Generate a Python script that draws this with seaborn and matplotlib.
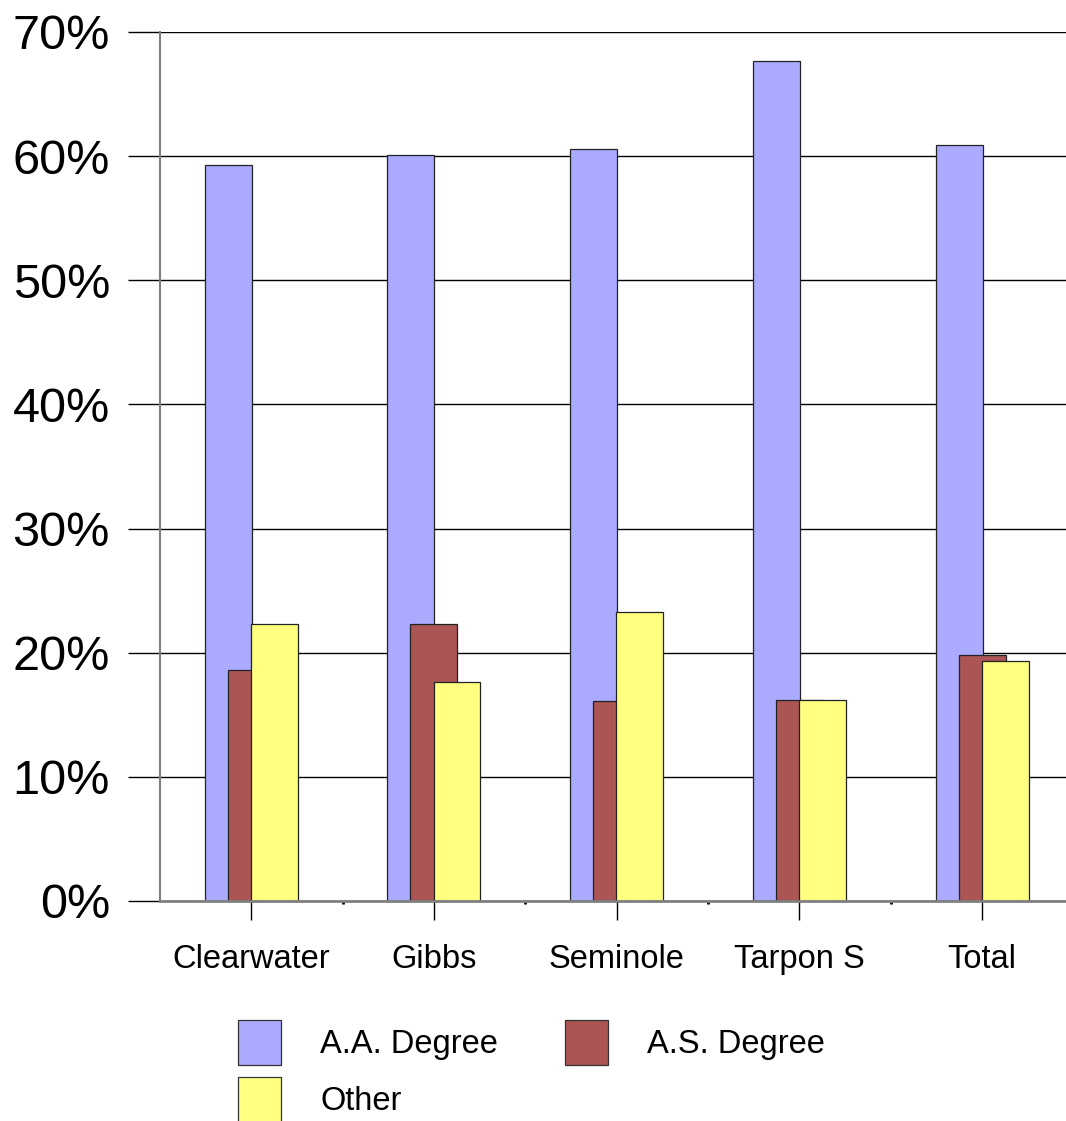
import numpy as np
import pandas as pd
import matplotlib.pyplot as plt
import seaborn as sns
from matplotlib.patches import Patch
from matplotlib.ticker import PercentFormatter

# share of graduates by degree type, per campus
campuses = ['Clearwater', 'Gibbs', 'Seminole', 'Tarpon S', 'Total']
aa_degree = [0.593, 0.601, 0.606, 0.677, 0.609]
as_degree = [0.186, 0.223, 0.161, 0.162, 0.198]
other = [0.223, 0.176, 0.233, 0.162, 0.193]

series = ['A.A. Degree', 'A.S. Degree', 'Other']
colors = ['#AAAAFF', '#AB5555', '#FFFF80']

sns.set_style('white')
plt.rcParams['font.family'] = ['Liberation Sans', 'DejaVu Sans']
plt.rcParams['text.color'] = 'black'

fig = plt.figure(figsize=(10.66, 11.21), dpi=100)
ax = fig.add_axes([0.150, 0.1963, 0.857, 0.7752])

pos = np.arange(len(campuses))
offsets = [-0.126, 0.0, 0.126]   # overlapping bars, excel style
for name, vals, col, off in zip(series, [aa_degree, as_degree, other], colors, offsets):
    df = pd.DataFrame({'x': pos + off, 'y': vals})
    sns.barplot(data=df, x='x', y='y', native_scale=True, width=0.257,
                color=col, saturation=1, edgecolor='#222222', linewidth=0.9,
                errorbar=None, ax=ax)

ax.set_xlim(-0.5, 4.5)
ax.set_ylim(0, 0.70)
ax.set_yticks(np.arange(0, 0.71, 0.1))
ax.yaxis.set_major_formatter(PercentFormatter(1.0, decimals=0))
ax.set_xticks(pos)
ax.set_xticklabels(campuses)
ax.set_xticks(pos[:-1] + 0.5, minor=True)
ax.set_xlabel('')
ax.set_ylabel('')

ax.grid(axis='y', color='black', linewidth=1)
ax.grid(axis='x', visible=False)
ax.set_axisbelow(True)
for s in ['top', 'right']:
    ax.spines[s].set_visible(False)
ax.spines['left'].set_color('#808080')
ax.spines['left'].set_linewidth(1.5)
ax.spines['bottom'].set_color('#808080')
ax.spines['bottom'].set_linewidth(2)

ax.tick_params(axis='y', length=23, width=1, color='black', labelcolor='black',
               pad=13, labelsize=35, left=True)
ax.tick_params(axis='x', which='major', length=14, width=1, color='black', labelcolor='black',
               pad=17, labelsize=23.5, bottom=True)
ax.tick_params(axis='x', which='minor', length=2.5, width=2, color='black', bottom=True)

handles = [Patch(facecolor=c, edgecolor='#333333', linewidth=0.9, label=l) for l, c in zip(series, colors)]
# reorder so the legend fills row by row
handles = [handles[0], handles[2], handles[1]]
fig.legend(handles=handles, ncol=2, loc='upper left', bbox_to_anchor=(0.2233, 0.0901),
           frameon=False, fontsize=23.5, handlelength=1.32, handleheight=1.75,
           handletextpad=1.2, columnspacing=2.05, labelspacing=0.37,
           borderpad=0, borderaxespad=0)

fig.savefig('out.png', dpi=100)
